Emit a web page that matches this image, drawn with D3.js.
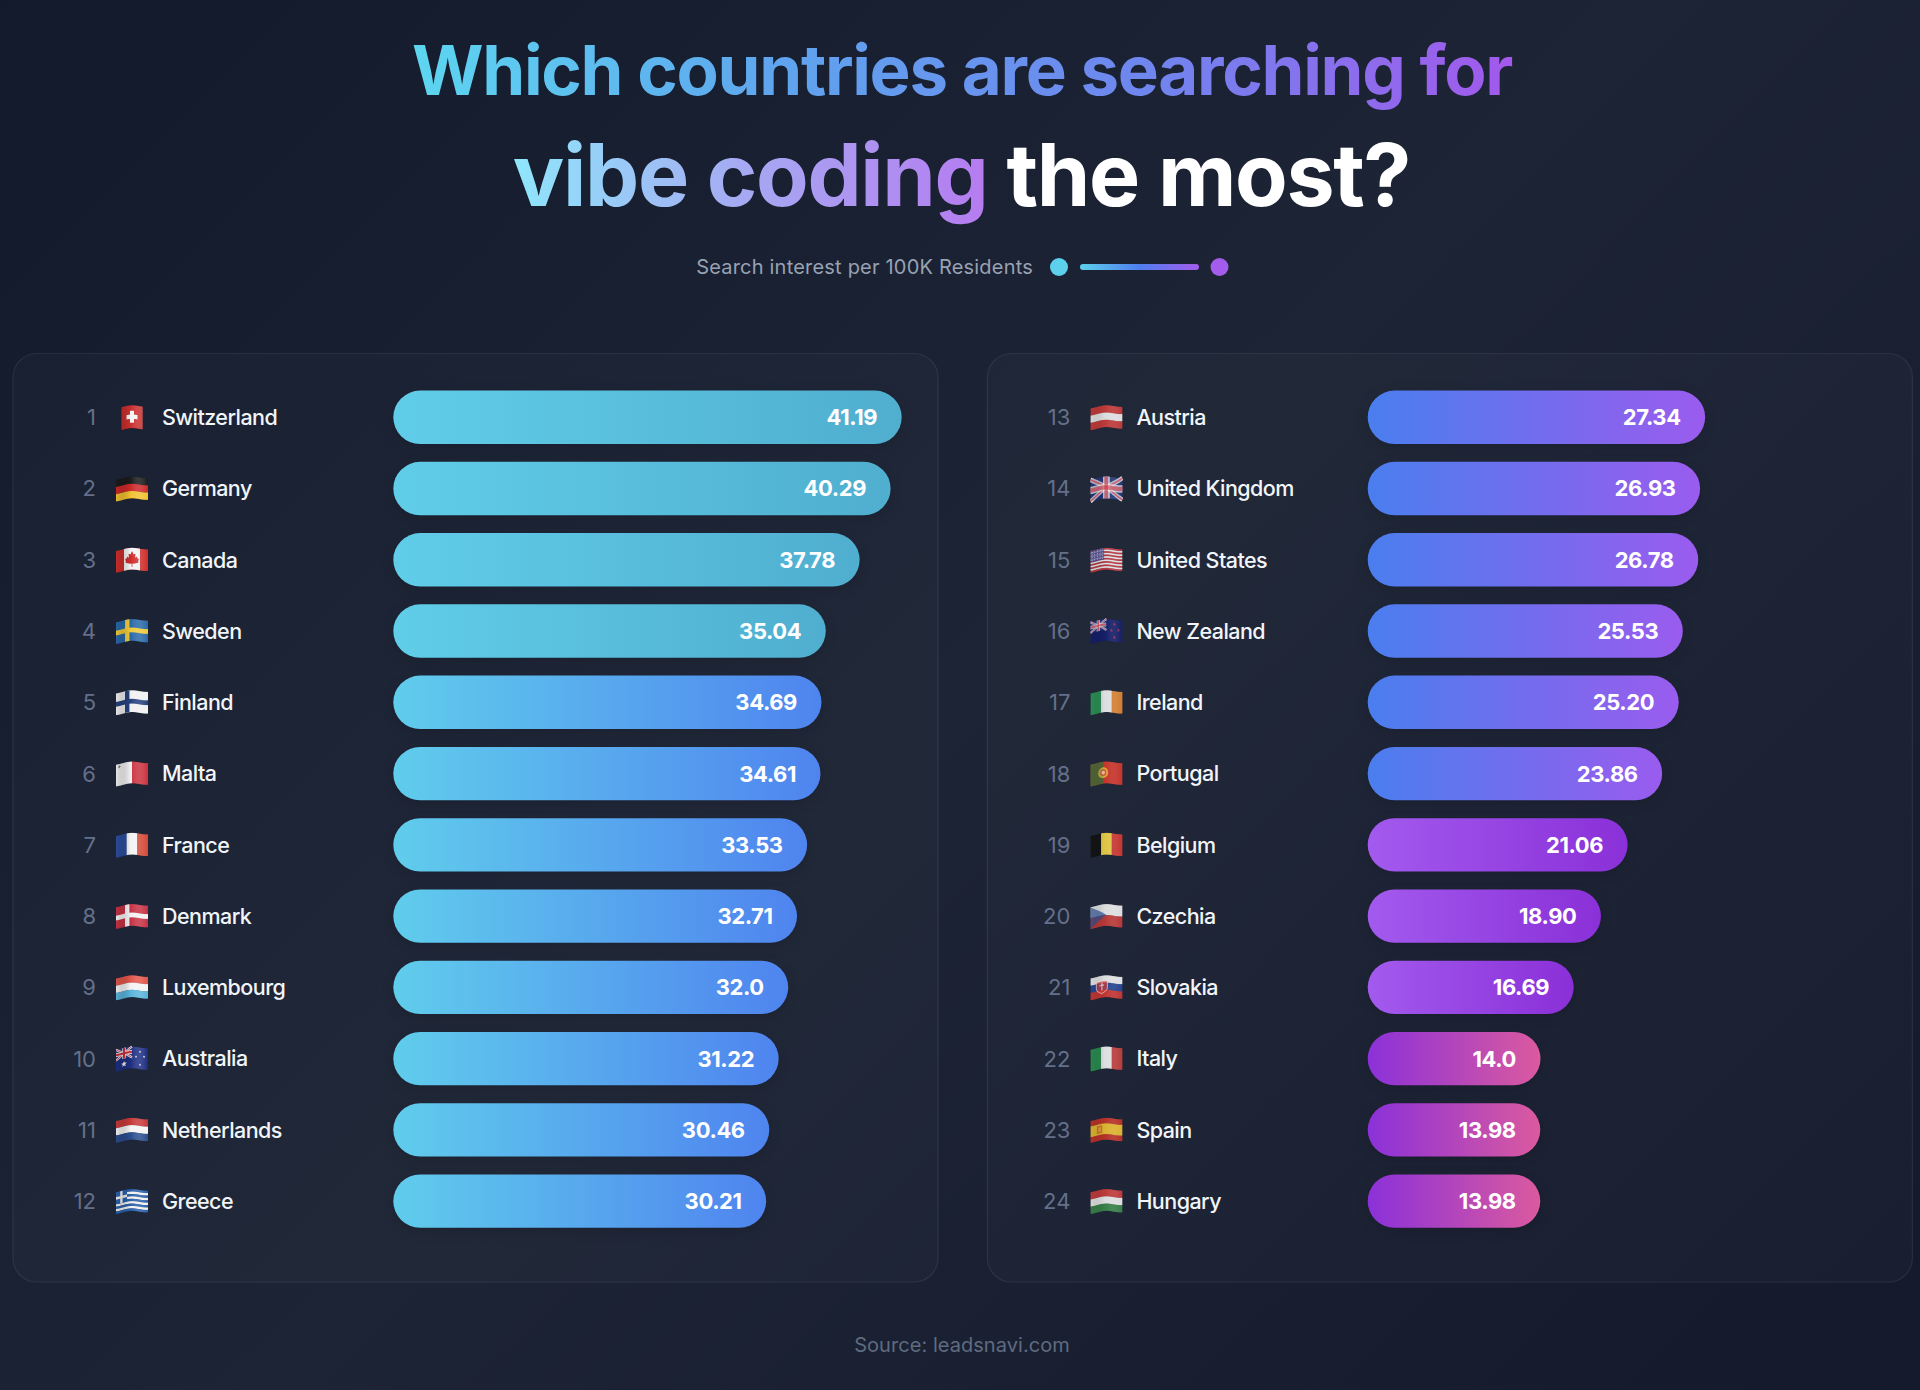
<!DOCTYPE html>
<html><head><meta charset="utf-8">
<script src="https://cdn.jsdelivr.net/npm/d3@7/dist/d3.min.js"></script>
<style>
html,body{margin:0;padding:0;width:1920px;height:1390px;overflow:hidden;background:linear-gradient(135deg,#131a2c 0%,#1d2435 50%,#141a2c 100%);}
svg{display:block;font-family:Inter,"Noto Sans",sans-serif;}
</style></head><body>
<svg id="chart" width="1920" height="1390"></svg>
<script>
const leftCountries=["Switzerland","Germany","Canada","Sweden","Finland","Malta","France","Denmark","Luxembourg","Australia","Netherlands","Greece"];
const leftValues=[41.19,40.29,37.78,35.04,34.69,34.61,33.53,32.71,32.0,31.22,30.46,30.21];
const leftLabels=["41.19","40.29","37.78","35.04","34.69","34.61","33.53","32.71","32.0","31.22","30.46","30.21"];
const leftFlags=["ch","de","ca","se","fi","mt","fr","dk","lu","au","nl","gr"];
const leftTiers=[0,0,0,0,1,1,1,1,1,1,1,1];
const rightCountries=["Austria","United Kingdom","United States","New Zealand","Ireland","Portugal","Belgium","Czechia","Slovakia","Italy","Spain","Hungary"];
const rightValues=[27.34,26.93,26.78,25.53,25.20,23.86,21.06,18.90,16.69,14.0,13.98,13.98];
const rightLabels=["27.34","26.93","26.78","25.53","25.20","23.86","21.06","18.90","16.69","14.0","13.98","13.98"];
const rightFlags=["at","gb","us","nz","ie","pt","be","cz","sk","it","es","hu"];
const rightTiers=[2,2,2,2,2,2,3,3,3,4,4,4];
const tierStart=["#60cde9","#60cdec","#4a7eee","#a35aee","#8b31d9"];
const tierEnd=["#50aecf","#4f84ef","#9a5cee","#8a30d8","#db5a9f"];

const svg=d3.select("#chart");
const defs=svg.append("defs");
function grad(id,stops,x1=0,x2=1,units="objectBoundingBox"){
  const g=defs.append("linearGradient").attr("id",id).attr("x1",x1).attr("x2",x2).attr("y1",0).attr("y2",0).attr("gradientUnits",units);
  stops.forEach((c,i)=>g.append("stop").attr("offset",i/(stops.length-1)).attr("stop-color",c));
}
tierStart.forEach((c,i)=>grad("tier"+i,[c,tierEnd[i]]));
grad("titleA",["#5dd6f0","#5fa4ee","#6f86ee","#a259ec"],412,1513,"userSpaceOnUse");
grad("titleB",["#8fe6fb","#a6a8f2","#b57cf0"],513,985,"userSpaceOnUse");
grad("legendLine",["#5dd0ec","#4f7eef","#a35cec"]);

/* ---- flags: little icons, drawn in a 32x20 box then bent into a wave ---- */
const FW=32,FH=20;
function R(g,x,y,w,h,f){g.append("rect").attr("x",x).attr("y",y).attr("width",w).attr("height",h).attr("fill",f);}
function H(g,cs,ws){const t=d3.sum(ws||cs.map(()=>1));let y=0;cs.forEach((c,i)=>{const h=(ws?ws[i]:1)/t*FH;R(g,0,y,FW,h+.05,c);y+=h;});}
function V(g,cs){cs.forEach((c,i)=>R(g,i*FW/cs.length,0,FW/cs.length+.05,FH,c));}
function N(g,bg,cr){R(g,0,0,FW,FH,bg);R(g,9,0,4.4,FH,cr);R(g,0,7.8,FW,4.4,cr);}
function star(g,x,y,r,f){g.append("path").attr("fill",f).attr("d",d3.range(10).map(i=>{const a=i*Math.PI/5-Math.PI/2,q=i%2?r*.42:r;return(i?"L":"M")+(x+q*Math.cos(a))+","+(y+q*Math.sin(a));}).join("")+"Z");}
function union(g,w,h){
  R(g,0,0,w,h,"#28397c");
  [[0,0,w,h],[0,h,w,0]].forEach(l=>{
    [["#f2f2f2",h*.2],["#c8303f",h*.08]].forEach(s=>g.append("line").attr("x1",l[0]).attr("y1",l[1]).attr("x2",l[2]).attr("y2",l[3]).attr("stroke",s[0]).attr("stroke-width",s[1]));
  });
  R(g,w/2-h*.17,0,h*.34,h,"#f2f2f2");R(g,0,h*.33,w,h*.34,"#f2f2f2");
  R(g,w/2-h*.1,0,h*.2,h,"#c8303f");R(g,0,h*.4,w,h*.2,"#c8303f");
}
const drawers={
  ch:g=>{R(g,5.5,0,21,FH+1,"#c8302e");R(g,14,5,4,11,"#f5f5f5");R(g,10.5,8.5,11,4,"#f5f5f5");},
  de:g=>H(g,["#1c1c1c","#cf2a2a","#f2c230"]),
  ca:g=>{V(g,["#cf2f2c"]);R(g,8,0,16,FH,"#f4f4f4");
    g.append("path").attr("fill","#cf2f2c").attr("d","M16,3 L17.5,6 L19.5,5.2 L19,9 L21,7.6 L21.6,9.6 L23,9.4 L22,12.4 L22.8,13 L18,14.6 L16.4,14.4 L16.4,17.4 L15.6,17.4 L15.6,14.4 L14,14.6 L9.2,13 L10,12.4 L9,9.4 L10.4,9.6 L11,7.6 L13,9 L12.5,5.2 L14.5,6Z");},
  se:g=>N(g,"#2a6aa8","#f0cb3a"),
  fi:g=>N(g,"#f1f1f1","#26427f"),
  mt:g=>{V(g,["#f1f1f1","#cb3440"]);R(g,2,2,2.6,.9,"#777");R(g,2.85,1.2,.9,2.6,"#777");},
  fr:g=>V(g,["#2c4f9e","#f4f4f4","#d44a38"]),
  dk:g=>N(g,"#c83345","#f4f4f4"),
  lu:g=>H(g,["#e2574c","#f4f4f4","#5ab4dc"]),
  au:g=>{R(g,0,0,FW,FH,"#1e2f82");union(g,16,10);star(g,8,15,3,"#f4f4f4");star(g,24,4,1.3,"#f4f4f4");star(g,24,16,1.3,"#f4f4f4");star(g,20,9,1.3,"#f4f4f4");star(g,28,8,1.3,"#f4f4f4");},
  nl:g=>H(g,["#c83a3a","#f4f4f4","#2c4e8e"]),
  gr:g=>{H(g,d3.range(9).map(i=>i%2?"#f2f2f2":"#2a62ae"));R(g,0,0,11,11.1,"#2a62ae");R(g,4.2,0,2.4,11.1,"#f2f2f2");R(g,0,4.4,11,2.4,"#f2f2f2");},
  at:g=>H(g,["#cf3f3c","#f2f2f2","#cf3f3c"]),
  gb:g=>union(g,FW,FH),
  us:g=>{H(g,d3.range(13).map(i=>i%2?"#f4f4f4":"#c73b43"));R(g,0,0,14,10.8,"#3b4e94");
    d3.range(4).forEach(r=>d3.range(5).forEach(c=>g.append("circle").attr("cx",1.6+c*2.7).attr("cy",1.6+r*2.5).attr("r",.55).attr("fill","#eef")));},
  nz:g=>{R(g,0,0,FW,FH,"#16206e");union(g,16,10);[[24,4],[28,9],[21,10],[24,16]].forEach(p=>star(g,p[0],p[1],1.6,"#d8394a"));},
  ie:g=>V(g,["#2f9a5a","#f4f4f4","#e58a35"]),
  pt:g=>{R(g,0,0,FW,FH,"#d8382c");R(g,0,0,12.8,FH,"#22783c");
    g.append("circle").attr("cx",12.8).attr("cy",10).attr("r",5).attr("fill","#e8c840");
    g.append("circle").attr("cx",12.8).attr("cy",10).attr("r",3.1).attr("fill","#c8302c");
    g.append("circle").attr("cx",12.8).attr("cy",10).attr("r",1.7).attr("fill","#f4f4f4");},
  be:g=>V(g,["#141414","#f5d848","#d83a34"]),
  cz:g=>{H(g,["#f2f2f2","#c93c3a"]);g.append("path").attr("fill","#2b4f8e").attr("d","M0,0L16,10L0,20Z");},
  sk:g=>{H(g,["#f4f4f4","#2b4a9a","#d23a36"]);
    g.append("path").attr("fill","#d23a36").attr("stroke","#f4f4f4").attr("stroke-width",.8).attr("d","M6,5H17V11C17,14 13.5,15.5 11.5,16.5C9.5,15.5 6,14 6,11Z");
    R(g,10.9,6.5,1.2,7,"#f4f4f4");R(g,9,8.2,5,1.1,"#f4f4f4");},
  it:g=>V(g,["#2e9454","#f4f4f4","#c8413f"]),
  es:g=>{H(g,["#c9352a","#f1c232","#c9352a"],[1,2,1]);R(g,6.5,6.5,5.5,7,"#b8542c");R(g,8,8,2.5,4,"#e6b040");},
  hu:g=>H(g,["#cf3f3c","#f2f2f2","#3d8a4e"])
};
Object.keys(drawers).forEach(k=>drawers[k](defs.append("g").attr("id","flag-"+k)));
d3.range(FW).forEach(i=>defs.append("clipPath").attr("id","sl"+i).append("rect").attr("x",i).attr("y",-6).attr("width",1.35).attr("height",FH+12));
const wave=x=>1.1*Math.cos(x/FW*2*Math.PI*0.95+0.4)-(x/FW-.5)*1.6;
const shade=x=>Math.sin(x/FW*2*Math.PI*0.95+0.4);
function flag(parent,code,x,y){
  const g=parent.append("g").attr("transform",`translate(${x-FW/2},${y-FH*.54}) scale(1,1.08)`);
  const from=code==="ch"?5:0,to=code==="ch"?27:FW;
  d3.range(from,to).forEach(i=>{
    const dy=wave(i+.5),s=shade(i+.5);
    const sl=g.append("g").attr("clip-path",`url(#sl${i})`).append("g").attr("transform",`translate(0,${dy})`);
    sl.append("use").attr("href","#flag-"+code);
    const x0=code==="ch"?Math.max(i,5.5):i;
    sl.append("rect").attr("x",x0).attr("y",0).attr("width",1.35).attr("height",FH+(code==="ch"?1:0))
      .attr("fill",s>0?"#000":"#fff").attr("opacity",Math.abs(s)*.14);
  });
}

/* ---- header ---- */
const cx=962.5;
svg.append("text").attr("x",cx-0.5).attr("y",95).attr("text-anchor","middle").attr("font-size",69).attr("font-weight",700).attr("letter-spacing",-1.3).attr("fill","url(#titleA)").text("Which countries are searching for");
const t2=svg.append("text").attr("x",cx-1).attr("y",206).attr("text-anchor","middle").attr("font-size",86).attr("font-weight",700).attr("letter-spacing",-1.35);
t2.append("tspan").attr("fill","url(#titleB)").text("vibe coding");
t2.append("tspan").attr("fill","#ffffff").text(" the most?");
svg.append("text").attr("x",1033).attr("y",267).attr("dy","0.35em").attr("text-anchor","end").attr("font-size",20).attr("letter-spacing",0.2).attr("fill","#98a2b3").text("Search interest per 100K Residents");
svg.append("circle").attr("cx",1059).attr("cy",267).attr("r",9).attr("fill","#5dd0ec");
svg.append("rect").attr("x",1080).attr("y",264).attr("width",119).attr("height",6).attr("rx",3).attr("fill","url(#legendLine)");
svg.append("circle").attr("cx",1219.5).attr("cy",267).attr("r",9).attr("fill","#a35cec");
svg.append("text").attr("x",962).attr("y",1345).attr("dy","0.35em").attr("text-anchor","middle").attr("font-size",20).attr("letter-spacing",0.05).attr("fill","#5f6b80").text("Source: leadsnavi.com");

/* ---- panels ---- */
const y=d3.scaleBand().domain(d3.range(12)).range([390.6,1227.85]).paddingInner(0.25).paddingOuter(0);
const len=d3.scaleLinear().domain([0,41.19]).range([0,508.4]);
function panel(offset,startRank,names,vals,labels,flags,tiers){
  const g=svg.append("g").attr("transform",`translate(${offset},0)`);
  g.append("rect").attr("x",13).attr("y",353.5).attr("width",925).attr("height",928.5).attr("rx",24)
    .attr("fill","rgba(255,255,255,0.02)").attr("stroke","rgba(255,255,255,0.08)").attr("stroke-width",1.2);
  const row=g.selectAll("g.row").data(names.map((n,i)=>({n,i,v:vals[i],l:labels[i],f:flags[i],t:tiers[i]}))).join("g").attr("class","row")
    .attr("transform",d=>`translate(0,${y(d.i)+y.bandwidth()/2})`);
  row.append("text").attr("x",96).attr("dy","0.36em").attr("text-anchor","end").attr("font-size",22).attr("fill","#64708a").text(d=>d.i+startRank);
  row.each(function(d){flag(d3.select(this),d.f,132,0);});
  row.append("text").attr("x",162).attr("dy","0.36em").attr("font-size",21.5).attr("letter-spacing",-0.55).attr("font-weight",500).attr("fill","#f1f5f9").text(d=>d.n);
  row.append("rect").attr("x",393.3).attr("y",-y.bandwidth()/2).attr("height",y.bandwidth()).attr("width",d=>len(d.v))
    .attr("rx",y.bandwidth()/2).attr("fill",d=>`url(#tier${d.t})`).style("filter","drop-shadow(0 3px 6px rgba(0,0,0,.14))");
  row.append("text").attr("x",d=>393.3+len(d.v)-24.5).attr("dy","0.36em").attr("text-anchor","end").attr("font-size",22).attr("letter-spacing",-0.4).attr("font-weight",700).attr("fill","#ffffff").text(d=>d.l);
}
panel(0,1,leftCountries,leftValues,leftLabels,leftFlags,leftTiers);
panel(974.4,13,rightCountries,rightValues,rightLabels,rightFlags,rightTiers);
</script>
</body></html>
